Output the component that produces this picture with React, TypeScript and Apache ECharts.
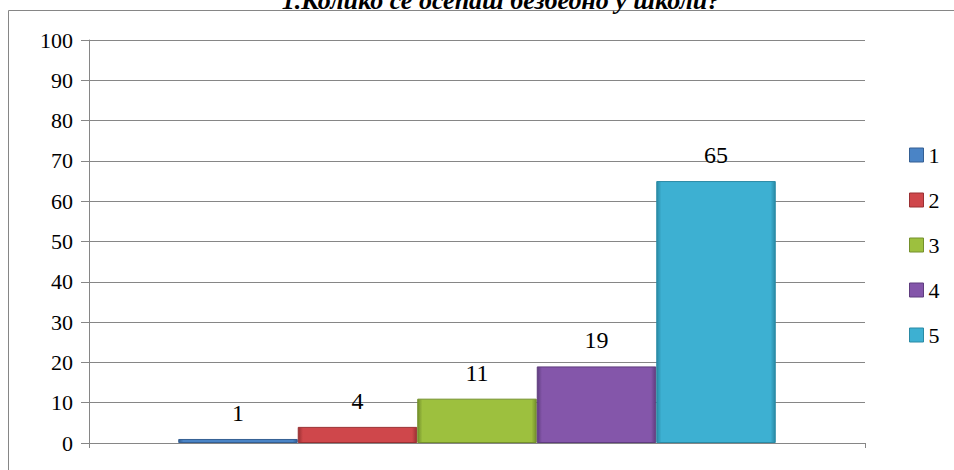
import React, { useEffect, useRef } from "react";
import * as echarts from "echarts";

const titleText = "1.Колико се осећаш безбедно у школи?";
const categories = [""];
const seriesNames = ["1", "2", "3", "4", "5"];
const seriesValues = [1, 4, 11, 19, 65];
const yTicks = { min: 0, max: 100, interval: 10 };

const baseColors = ["#4a84c6", "#cf474b", "#9dc03e", "#8456aa", "#3db0d2"];
const darkColors = ["#345f93", "#9a3033", "#74902c", "#5f3d7e", "#2a8aa5"];

const FONT = "Times New Roman";
const CAT_GAP = 0.23;

export default function App() {
  const ref = useRef<HTMLDivElement>(null);
  useEffect(() => {
    document.body.style.margin = "0";
    const chart = echarts.init(ref.current!, null, { renderer: "svg" });
    const series: any[] = seriesNames.map((name, i) => ({
      name,
      type: "bar",
      data: [seriesValues[i]],
      barGap: "0%",
      barCategoryGap: `${CAT_GAP * 100}%`,
      itemStyle: {
        color: new echarts.graphic.LinearGradient(0, 0, 1, 0, [
          { offset: 0, color: darkColors[i] },
          { offset: 0.04, color: baseColors[i] },
          { offset: 0.96, color: baseColors[i] },
          { offset: 1, color: darkColors[i] },
        ]),
        borderColor: darkColors[i],
        borderWidth: 1,
      },
    }));
    series.push({
      name: "labels",
      type: "custom",
      z: 10,
      silent: true,
      encode: { x: 0, y: 1 },
      data: seriesValues.map((v, i) => [0, v, i]),
      renderItem: (params: any, api: any) => {
        const c = api.coord([api.value(0), api.value(1)]);
        const catW = api.size([1, 0])[0];
        const total = catW * (1 - CAT_GAP);
        const barW = total / seriesNames.length;
        const x = c[0] - total / 2 + (api.value(2) + 0.5) * barW;
        return {
          type: "text",
          x,
          y: c[1] - 14,
          style: {
            text: String(api.value(1)),
            fill: "#000",
            fontFamily: FONT,
            fontSize: 24,
            align: "center",
            verticalAlign: "bottom",
          },
        };
      },
    });
    chart.setOption({
      animation: false,
      backgroundColor: "#fff",
      textStyle: { fontFamily: FONT },
      graphic: [
        {
          type: "rect",
          shape: { x: 8.5, y: 10.5, width: 960, height: 480 },
          style: { fill: "none", stroke: "#868686", lineWidth: 1 },
          silent: true,
        },
        {
          type: "text",
          x: 501,
          y: 0,
          style: {
            text: titleText,
            fill: "#000",
            fontFamily: FONT,
            fontSize: 26,
            fontStyle: "italic",
            fontWeight: "bold",
            align: "center",
            verticalAlign: "middle",
          },
        },
      ],
      grid: { left: 89, right: 89, top: 40, bottom: 27, containLabel: false },
      legend: {
        orient: "vertical",
        left: 904,
        top: 139,
        itemWidth: 14,
        itemHeight: 14,
        itemGap: 23,
        icon: "rect",
        textStyle: { color: "#000", fontFamily: FONT, fontSize: 22 },
        data: seriesNames.map((n, i) => ({
          name: n,
          itemStyle: { color: baseColors[i], borderColor: darkColors[i], borderWidth: 1 },
        })),
      },
      xAxis: {
        type: "category",
        data: categories,
        axisLine: { show: true, lineStyle: { color: "#868686", width: 1 } },
        axisTick: { show: true, length: 5, lineStyle: { color: "#868686" } },
        axisLabel: { show: false },
      },
      yAxis: {
        type: "value",
        min: yTicks.min,
        max: yTicks.max,
        interval: yTicks.interval,
        axisLine: { show: true, lineStyle: { color: "#868686", width: 1 } },
        axisTick: { show: true, length: 8, lineStyle: { color: "#868686" } },
        splitLine: { show: true, lineStyle: { color: "#868686", width: 1 } },
        axisLabel: { color: "#000", fontFamily: FONT, fontSize: 22, margin: 16 },
      },
      series,
    });
    return () => chart.dispose();
  }, []);
  return <div ref={ref} style={{ width: 954, height: 470 }} />;
}
